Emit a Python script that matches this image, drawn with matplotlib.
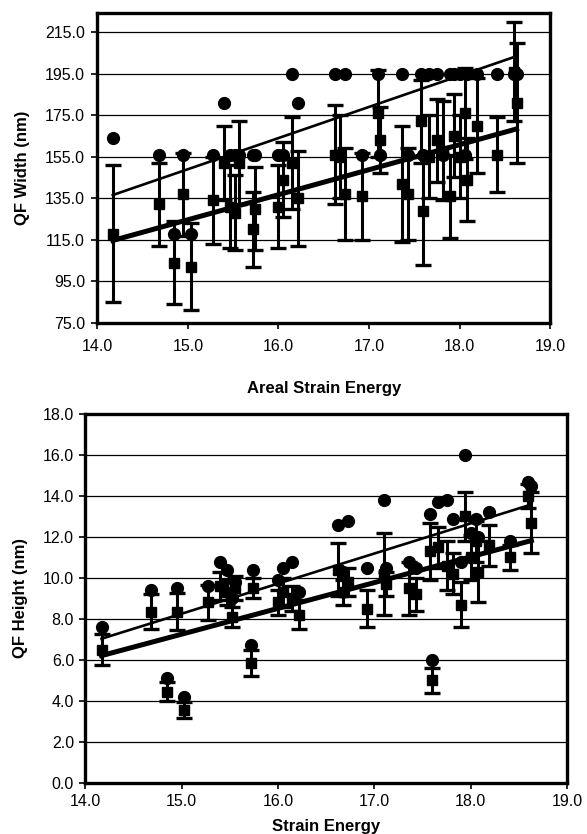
import numpy as np
import matplotlib
matplotlib.use("Agg")
import matplotlib.pyplot as plt

plt.rcParams["font.family"] = ["Liberation Sans", "DejaVu Sans"]

# samples (same x for both panels)
energy = [14.17, 14.68, 14.85, 14.95, 15.03, 15.28, 15.40, 15.47, 15.52, 15.56,
          15.72, 15.74, 16.00, 16.05, 16.15, 16.22, 16.62, 16.68, 16.73, 16.92,
          17.10, 17.12, 17.36, 17.43, 17.58, 17.60, 17.66, 17.75, 17.82, 17.90,
          17.94, 18.00, 18.06, 18.08, 18.19, 18.41, 18.60, 18.63]

# top panel: QF width
width_circ = [164, 156, 118, 156, 118, 156, 181, 156, 156, 156,
              156, 156, 156, 156, 195, 181, 195, 156, 195, 156,
              195, 156, 195, 156, 195, 156, 195, 195, 156, 195,
              195, 195, 156, 195, 195, 195, 195, 195]
width_sq = [118, 132, 104, 137, 102, 134, 152, 131, 128, 152,
            120, 130, 131, 144, 152, 135, 156, 155, 137, 136,
            176, 163, 142, 137, 172, 129, 155, 163, 158, 136,
            165, 155, 176, 144, 170, 156, 196, 181]
width_err = [33, 20, 20, 20, 21, 21, 18, 20, 18, 20,
             18, 20, 20, 18, 22, 23, 24, 20, 22, 21,
             21, 16, 28, 22, 20, 26, 20, 20, 24, 20,
             20, 20, 22, 20, 23, 18, 24, 29]

# bottom panel: QF height
height_circ = [7.6, 9.4, 5.1, 9.5, 4.2, 9.6, 10.8, 10.4, 9.0, 9.8,
               6.7, 10.4, 9.9, 10.5, 10.8, 9.3, 12.6, 10.3, 12.8, 10.5,
               13.8, 10.5, 10.8, 10.5, 13.1, 6.0, 13.7, 13.8, 12.9, 10.8,
               16.0, 12.2, 12.9, 12.0, 13.2, 11.8, 14.7, 14.5]
height_sq = [6.5, 8.35, 4.45, 8.35, 3.55, 8.8, 9.6, 9.3, 8.1, 9.5,
             5.85, 9.5, 8.8, 9.3, 9.0, 8.2, 10.4, 9.3, 9.8, 8.5,
             10.2, 9.7, 9.5, 9.2, 11.3, 5.0, 11.5, 10.6, 10.2, 8.7,
             13.0, 11.0, 11.8, 10.3, 11.6, 11.0, 14.0, 12.7]
height_err = [0.75, 0.85, 0.45, 0.9, 0.4, 0.85, 0.7, 0.6, 0.5, 0.6,
              0.65, 0.5, 0.6, 0.7, 0.6, 0.7, 1.3, 0.6, 0.7, 0.9,
              2.0, 0.6, 1.3, 0.8, 1.4, 0.6, 1.0, 1.2, 1.0, 1.1,
              1.2, 1.1, 1.0, 1.5, 1.0, 0.6, 0.6, 1.5]

# linear trend lines (slope, intercept)
width_circ_fit = (15.0, -76.0)
width_sq_fit = (12.05, -56.1)
height_circ_fit = (1.47, -13.8)
height_sq_fit = (1.26, -11.65)

fig = plt.figure(figsize=(5.87, 8.34), dpi=100)
ax1 = fig.add_axes([0.166, 0.613, 0.771, 0.372])
ax2 = fig.add_axes([0.145, 0.0615, 0.821, 0.442])

def panel(ax, circ, sq, err, cfit, sfit, ylim, yticks, ylabel, xlabel):
    x = np.array(energy)
    ax.set_axisbelow(True)
    ax.grid(axis="y", color="black", linewidth=0.9)
    xl = np.array([x.min(), x.max()])
    ax.plot(xl, cfit[0] * xl + cfit[1], color="black", lw=1.9, zorder=2)
    ax.plot(xl, sfit[0] * xl + sfit[1], color="black", lw=3.6, zorder=2)
    ax.errorbar(x, sq, yerr=err, fmt="s", color="black", ms=7,
                elinewidth=2.2, capsize=6, capthick=2.4, zorder=3)
    ax.plot(x, circ, "o", color="black", ms=8.5, zorder=4)
    ax.set_xlim(14, 19)
    ax.set_ylim(*ylim)
    ax.set_xticks(np.arange(14, 19.5, 1.0))
    ax.set_yticks(yticks)
    ax.xaxis.set_major_formatter(matplotlib.ticker.FormatStrFormatter("%.1f"))
    ax.yaxis.set_major_formatter(matplotlib.ticker.FormatStrFormatter("%.1f"))
    ax.tick_params(direction="out", length=4, width=1.2, labelsize=11.5, color="black")
    for s in ax.spines.values():
        s.set_linewidth(2.4)
    ax.set_ylabel(ylabel, fontsize=12, fontweight="bold")
    ax.set_xlabel(xlabel, fontsize=12, fontweight="bold")

panel(ax1, width_circ, width_sq, width_err, width_circ_fit, width_sq_fit,
      (75, 224.5), np.arange(75, 216, 20), "QF Width (nm)", "Areal Strain Energy")
panel(ax2, height_circ, height_sq, height_err, height_circ_fit, height_sq_fit,
      (0, 18), np.arange(0, 18.1, 2), "QF Height (nm)", "Strain Energy")

ax1.tick_params(axis="x", pad=8)
ax1.tick_params(axis="y", pad=5)
ax2.tick_params(axis="x", pad=4)
ax2.tick_params(axis="y", pad=4)
ax1.xaxis.set_label_coords(0.5, -0.188)
ax2.xaxis.set_label_coords(0.5, -0.098)
ax1.yaxis.set_label_coords(-0.149, 0.5)
ax2.yaxis.set_label_coords(-0.118, 0.5)

fig.savefig("out.png", dpi=100)
